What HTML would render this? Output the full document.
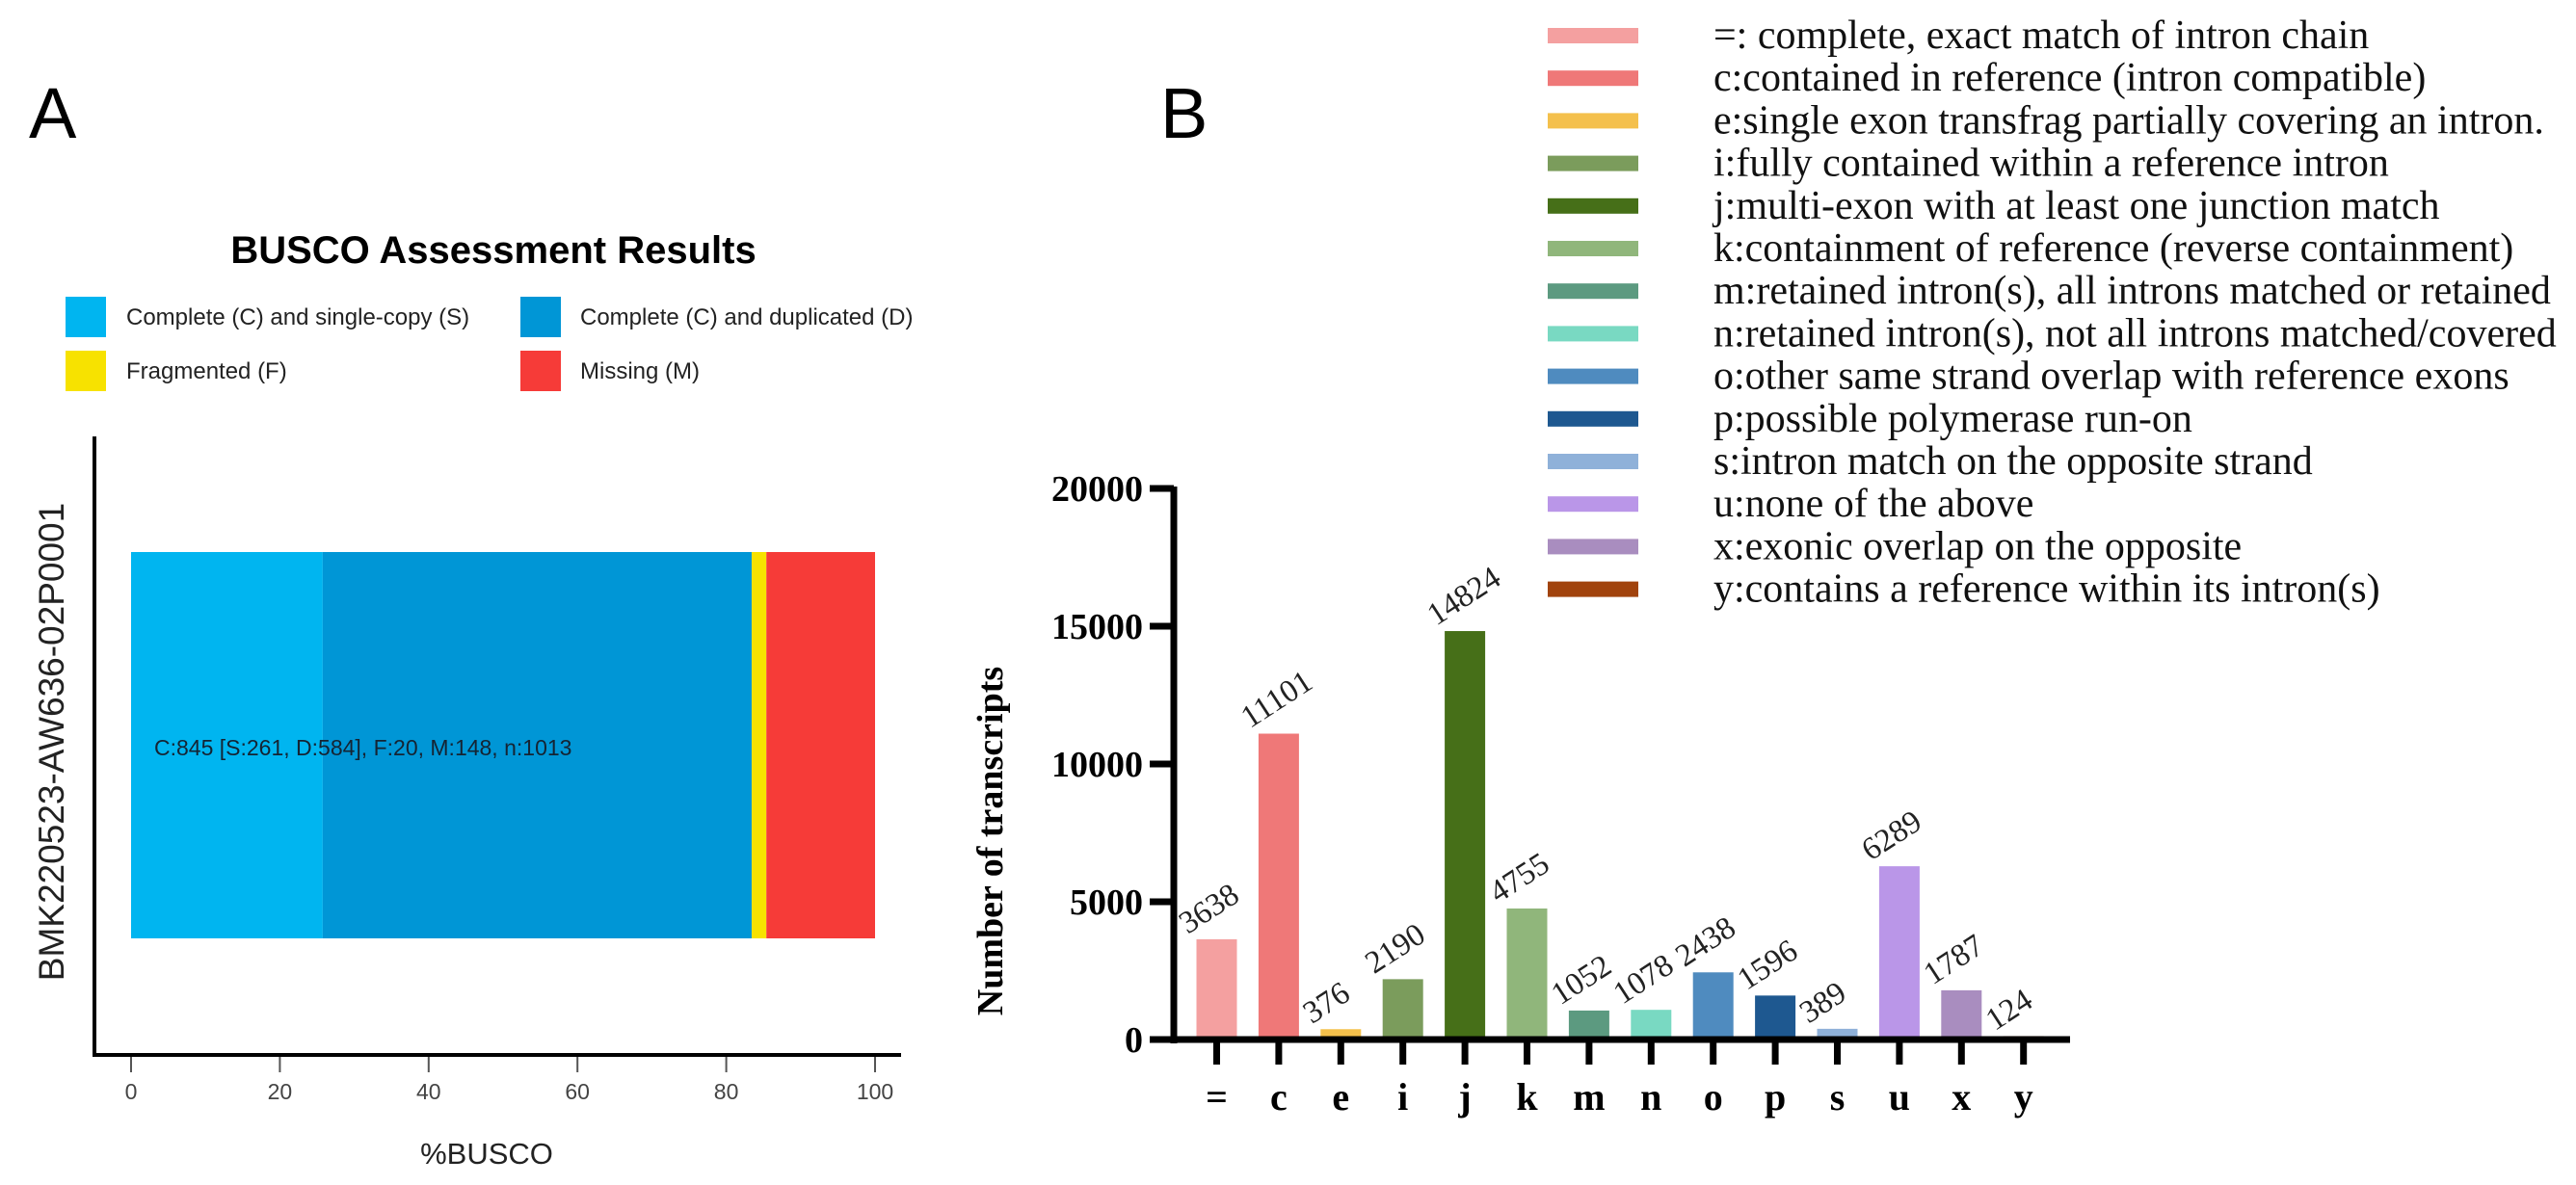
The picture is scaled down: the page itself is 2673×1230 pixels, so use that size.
<!DOCTYPE html>
<html><head><meta charset="utf-8"><style>
html,body{margin:0;padding:0;background:#fff;}
svg{display:block;}
</style></head><body>
<svg id="fig" width="2673" height="1230" viewBox="0 0 2673 1230" xmlns="http://www.w3.org/2000/svg">
<g id="panelA">
  <text x="30" y="143" font-family="Liberation Sans, sans-serif" font-size="74">A</text>
  <text x="512" y="273" text-anchor="middle" font-family="Liberation Sans, sans-serif" font-size="40" font-weight="bold">BUSCO Assessment Results</text>
  <g font-family="Liberation Sans, sans-serif" font-size="24" fill="#222">
    <rect x="68" y="308" width="42" height="42" fill="#00b5f0"/>
    <text x="131" y="337">Complete (C) and single-copy (S)</text>
    <rect x="540" y="308" width="42" height="42" fill="#0096d6"/>
    <text x="602" y="337">Complete (C) and duplicated (D)</text>
    <rect x="68" y="364" width="42" height="42" fill="#f7e200"/>
    <text x="131" y="393">Fragmented (F)</text>
    <rect x="540" y="364" width="42" height="42" fill="#f63b38"/>
    <text x="602" y="393">Missing (M)</text>
  </g>
  <g id="busco-bars"></g>
  <line x1="98" y1="453" x2="98" y2="1096" stroke="#000" stroke-width="4"/>
  <line x1="96" y1="1095" x2="935" y2="1095" stroke="#000" stroke-width="4"/>
  <g id="busco-ticks"></g>
  <text x="160" y="784" font-family="Liberation Sans, sans-serif" font-size="23" fill="#152433">C:845 [S:261, D:584], F:20, M:148, n:1013</text>
  <text x="505" y="1208" text-anchor="middle" font-family="Liberation Sans, sans-serif" font-size="31" fill="#222">%BUSCO</text>
  <text transform="translate(66,770) rotate(-90)" text-anchor="middle" font-family="Liberation Sans, sans-serif" font-size="37" fill="#222">BMK220523-AW636-02P0001</text>
</g>
<g id="panelB">
  <text x="1204" y="143" font-family="Liberation Sans, sans-serif" font-size="74">B</text>
  <g id="legendB"></g>
  <g id="barsB"></g>
  <g id="axesB"></g>
  <text transform="translate(1040,873) rotate(-90)" text-anchor="middle" font-family="Liberation Serif, serif" font-size="38" font-weight="bold">Number of transcripts</text>
</g>
</svg>
<script>
const NS = "http://www.w3.org/2000/svg";
// Panel A data
const buscoCategories = ["single", "duplicated", "fragmented", "missing"];
const buscoCounts = [261, 584, 20, 148];
const buscoTotal = 1013;
const buscoColors = ["#00b5f0", "#0096d6", "#f7e200", "#f63b38"];
const buscoTicks = [0, 20, 40, 60, 80, 100];
// Panel B data
const classCodes = ["=", "c", "e", "i", "j", "k", "m", "n", "o", "p", "s", "u", "x", "y"];
const transcriptCounts = [3638, 11101, 376, 2190, 14824, 4755, 1052, 1078, 2438, 1596, 389, 6289, 1787, 124];
const classColors = ["#f4a0a0", "#ef7878", "#f4c04c", "#7b9c5c", "#466f18", "#90b67b", "#5c9a80", "#79d9c2", "#4f8bbf", "#1e5890", "#8fb1d9", "#ba96e8", "#a98dbf", "#a1430d"];
const classDescriptions = ["=: complete, exact match of intron chain", "c:contained in reference (intron compatible)", "e:single exon transfrag partially covering an intron.", "i:fully contained within a reference intron", "j:multi-exon with at least one junction match", "k:containment of reference (reverse containment)", "m:retained intron(s), all introns matched or retained", "n:retained intron(s), not all introns matched/covered", "o:other same strand overlap with reference exons", "p:possible polymerase run-on", "s:intron match on the opposite strand", "u:none of the above", "x:exonic overlap on the opposite", "y:contains a reference within its intron(s)"];
const yTicks = [0, 5000, 10000, 15000, 20000];

function mk(tag, attrs, parent){ const e=document.createElementNS(NS,tag); for(const k in attrs) e.setAttribute(k,attrs[k]); parent.appendChild(e); return e; }

// Panel A
const xA = v => 136 + 7.72 * v;
const gA = document.getElementById("busco-bars");
let cum = 0;
buscoCounts.forEach((c,i)=>{
  const p = c / buscoTotal * 100;
  const r = mk("rect",{x:xA(cum),y:573,width:xA(cum+p)-xA(cum),height:401,fill:buscoColors[i]},gA);
  
  
  cum += p;
});
const gT = document.getElementById("busco-ticks");
buscoTicks.forEach(t=>{
  const l = mk("line",{x1:xA(t),y1:1097,x2:xA(t),y2:1113,stroke:"#555","stroke-width":2},gT);
  
  
  const tx = mk("text",{x:xA(t),y:1141,"text-anchor":"middle","font-family":"Liberation Sans, sans-serif","font-size":23,fill:"#444"},gT);
  tx.textContent = t;
  
  
});

// Panel B
const y0 = 1079, pxPerUnit = 143/5000;
const yB = v => y0 - v * pxPerUnit;
const xB = i => 1262.5 + i * 64.4;
const bw = 42;
const gB = document.getElementById("barsB");
transcriptCounts.forEach((v,i)=>{
  const r = mk("rect",{x:xB(i)-bw/2,y:yB(v),width:bw,height:y0-yB(v),fill:classColors[i]},gB);
  
  
  const t = mk("text",{transform:`translate(${xB(i)-30},${yB(v)-5}) rotate(-33)`,"font-family":"Liberation Serif, serif","font-size":33,fill:"#222"},gB);
  t.textContent = v;
  
  
});
const gX = document.getElementById("axesB");
const ya = mk("line",{x1:1218,y1:yB(20000)-2,x2:1218,y2:y0+4,stroke:"#000","stroke-width":7},gX);


const xa = mk("line",{x1:1193,y1:y0,x2:2148,y2:y0,stroke:"#000","stroke-width":7},gX);


yTicks.forEach(t=>{
  const l = mk("line",{x1:1193,y1:yB(t),x2:1218,y2:yB(t),stroke:"#000","stroke-width":7},gX);
  
  
  const tx = mk("text",{x:1186,y:yB(t)+13,"text-anchor":"end","font-family":"Liberation Serif, serif","font-size":38,"font-weight":"bold"},gX);
  tx.textContent = t;
  
  
});
classCodes.forEach((c,i)=>{
  const l = mk("line",{x1:xB(i),y1:y0,x2:xB(i),y2:y0+26,stroke:"#000","stroke-width":7},gX);
  
  
  const tx = mk("text",{x:xB(i),y:1152,"text-anchor":"middle","font-family":"Liberation Serif, serif","font-size":40,"font-weight":"bold"},gX);
  tx.textContent = c;
  
  
});
const gL = document.getElementById("legendB");
classDescriptions.forEach((d,i)=>{
  const y = 37 + i * 44.2;
  const r = mk("rect",{x:1606,y:y-8,width:94,height:16,fill:classColors[i]},gL);
  
  
  const t = mk("text",{x:1778,y:y+13,"font-family":"Liberation Serif, serif","font-size":42,fill:"#111"},gL);
  t.textContent = d;
  
  
});
</script>
</body></html>
